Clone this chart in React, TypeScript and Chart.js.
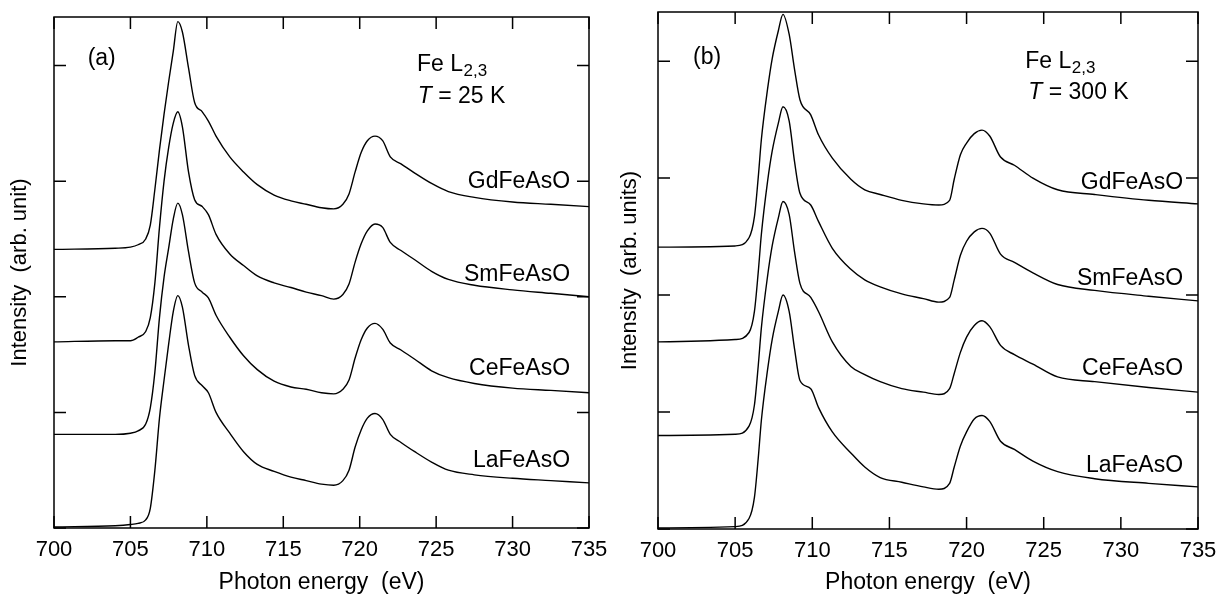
import React, { useEffect, useRef } from 'react';
import { Chart, registerables } from 'chart.js';

Chart.register(...registerables);

// ---------- data ----------
const energy25 = [700, 704, 705, 705.5, 706, 706.3, 706.6, 706.9, 707.2, 707.5, 707.8, 708.1, 708.4, 708.8, 709.2, 709.7, 710.1, 710.6, 711.5, 712.4, 713.3, 714.4, 715.5, 716.5, 717.5, 718.3, 718.9, 719.3, 719.7, 720.1, 720.5, 721.0, 721.5, 722.0, 722.7, 723.6, 724.7, 725.8, 727.5, 730, 732.5, 735];
const La25 = [0.01, 0.02, 0.03, 0.04, 0.07, 0.17, 0.50, 0.95, 1.28, 1.59, 1.87, 2.01, 1.91, 1.58, 1.32, 1.23, 1.17, 1.00, 0.82, 0.66, 0.55, 0.49, 0.44, 0.41, 0.38, 0.37, 0.41, 0.50, 0.70, 0.85, 0.95, 0.99, 0.94, 0.81, 0.74, 0.66, 0.57, 0.50, 0.46, 0.43, 0.41, 0.39];
const Ce25 = [0.81, 0.81, 0.82, 0.84, 0.90, 1.04, 1.35, 1.82, 2.17, 2.42, 2.67, 2.81, 2.71, 2.39, 2.12, 2.04, 1.99, 1.84, 1.65, 1.49, 1.37, 1.27, 1.22, 1.20, 1.17, 1.16, 1.20, 1.28, 1.47, 1.63, 1.73, 1.77, 1.72, 1.60, 1.54, 1.46, 1.36, 1.30, 1.25, 1.21, 1.19, 1.17];
const Sm25 = [1.61, 1.62, 1.62, 1.65, 1.70, 1.82, 2.12, 2.60, 3.00, 3.29, 3.50, 3.60, 3.47, 3.08, 2.84, 2.78, 2.71, 2.54, 2.37, 2.27, 2.18, 2.12, 2.08, 2.04, 2.01, 1.98, 2.02, 2.11, 2.30, 2.46, 2.57, 2.63, 2.60, 2.47, 2.40, 2.32, 2.22, 2.15, 2.10, 2.06, 2.03, 2.00];
const Gd25 = [2.41, 2.42, 2.43, 2.45, 2.50, 2.62, 2.93, 3.27, 3.58, 3.86, 4.12, 4.38, 4.29, 3.98, 3.68, 3.60, 3.52, 3.39, 3.21, 3.08, 2.97, 2.88, 2.83, 2.80, 2.77, 2.76, 2.80, 2.89, 3.08, 3.25, 3.35, 3.39, 3.35, 3.21, 3.15, 3.07, 2.98, 2.91, 2.86, 2.82, 2.80, 2.78];

const energy300 = [700, 705, 705.9, 706.25, 706.5, 706.7, 707.1, 707.4, 707.8, 708.1, 708.5, 708.85, 709.2, 709.9, 710.4, 711.3, 712.5, 713.4, 714.4, 715.8, 717.2, 718.2, 718.9, 719.2, 719.6, 720.0, 720.5, 721.0, 721.5, 722.2, 723.1, 724.3, 725.9, 728.3, 731.8, 735];
const La300 = [0.01, 0.02, 0.09, 0.27, 0.61, 0.93, 1.36, 1.62, 1.86, 2.00, 1.86, 1.54, 1.27, 1.20, 1.04, 0.83, 0.65, 0.53, 0.44, 0.40, 0.36, 0.34, 0.39, 0.53, 0.71, 0.83, 0.94, 0.97, 0.92, 0.75, 0.68, 0.58, 0.49, 0.43, 0.39, 0.36];
const Ce300 = [0.80, 0.81, 0.88, 1.06, 1.40, 1.72, 2.16, 2.42, 2.66, 2.80, 2.69, 2.37, 2.10, 1.98, 1.86, 1.60, 1.39, 1.32, 1.26, 1.20, 1.17, 1.15, 1.20, 1.33, 1.51, 1.64, 1.74, 1.78, 1.73, 1.57, 1.49, 1.41, 1.30, 1.26, 1.21, 1.17];
const Sm300 = [1.60, 1.62, 1.68, 1.86, 2.20, 2.52, 2.97, 3.23, 3.47, 3.61, 3.49, 3.14, 2.87, 2.77, 2.63, 2.40, 2.22, 2.13, 2.07, 2.01, 1.97, 1.94, 1.98, 2.13, 2.34, 2.46, 2.54, 2.57, 2.53, 2.35, 2.28, 2.19, 2.09, 2.04, 1.99, 1.95];
const Gd300 = [2.41, 2.42, 2.49, 2.67, 3.01, 3.33, 3.76, 4.02, 4.26, 4.40, 4.23, 3.93, 3.67, 3.54, 3.37, 3.17, 2.99, 2.90, 2.86, 2.81, 2.78, 2.77, 2.81, 2.99, 3.20, 3.30, 3.38, 3.41, 3.36, 3.18, 3.11, 3.00, 2.90, 2.86, 2.81, 2.78];

const sampleNames = ['LaFeAsO', 'CeFeAsO', 'SmFeAsO', 'GdFeAsO'];
const xTickValues = [700, 705, 710, 715, 720, 725, 730, 735];
const yTickValues = [0, 1, 2, 3, 4];
const xRange = [700, 735];
const yRange = [0, 4.42];

const FONT = '"Liberation Sans", Arial, Helvetica, sans-serif';

type PanelSpec = {
  left: number;
  width: number;
  pad: { left: number; right: number; top: number; bottom: number };
  yAxisWidth: number;
  xAxisHeight: number;
  yTitle: string;
  yTitlePad: number;
  tag: string;
  temp: string;
  energy: number[];
  series: number[][];
  nameX: number;
  nameY: number[];
  tagPos: [number, number];
  fePos: [number, number];
  tPos: [number, number];
};

const panels: PanelSpec[] = [
  {
    left: 0,
    width: 609,
    pad: { left: 0, right: 20, top: 17, bottom: 0 },
    yAxisWidth: 54,
    xAxisHeight: 68,
    yTitle: 'Intensity  (arb. unit)',
    yTitlePad: 7,
    tag: '(a)',
    temp: ' = 25 K',
    energy: energy25,
    series: [La25, Ce25, Sm25, Gd25],
    nameX: 733.76,
    nameY: [0.53, 1.32, 2.14, 2.94],
    tagPos: [702.2, 4.06],
    fePos: [723.75, 3.95],
    tPos: [723.8, 3.68],
  },
  {
    left: 609,
    width: 610,
    pad: { left: 0, right: 21, top: 12, bottom: 0 },
    yAxisWidth: 49,
    xAxisHeight: 67,
    yTitle: 'Intensity  (arb. units)',
    yTitlePad: 8,
    tag: '(b)',
    temp: ' = 300 K',
    energy: energy300,
    series: [La300, Ce300, Sm300, Gd300],
    nameX: 734.03,
    nameY: [0.49, 1.32, 2.09, 2.91],
    tagPos: [702.27, 4.03],
    fePos: [723.8, 3.94],
    tPos: [724.0, 3.68],
  },
];

function makePlugin(spec: PanelSpec) {
  return {
    id: 'frameAndText',
    afterDraw(chart: any) {
      const { ctx, chartArea } = chart;
      const { left, right, top, bottom } = chartArea;
      const x = chart.scales.x;
      const y = chart.scales.y;
      ctx.save();
      ctx.strokeStyle = '#000';
      ctx.lineWidth = 1.5;
      ctx.strokeRect(left, top, right - left, bottom - top);
      ctx.beginPath();
      const tl = 12;
      xTickValues.forEach((v) => {
        const px = x.getPixelForValue(v);
        ctx.moveTo(px, bottom);
        ctx.lineTo(px, bottom - tl);
        ctx.moveTo(px, top);
        ctx.lineTo(px, top + tl);
      });
      yTickValues.forEach((v) => {
        const py = y.getPixelForValue(v);
        ctx.moveTo(left, py);
        ctx.lineTo(left + tl, py);
        ctx.moveTo(right, py);
        ctx.lineTo(right - tl, py);
      });
      ctx.stroke();

      ctx.fillStyle = '#000';
      // sample names
      ctx.font = `23px ${FONT}`;
      ctx.textAlign = 'right';
      ctx.textBaseline = 'alphabetic';
      sampleNames.forEach((n, i) => {
        ctx.fillText(n, x.getPixelForValue(spec.nameX), y.getPixelForValue(spec.nameY[i]));
      });
      // panel tag
      ctx.textAlign = 'left';
      ctx.textBaseline = 'middle';
      ctx.font = `23px ${FONT}`;
      ctx.fillText(spec.tag, x.getPixelForValue(spec.tagPos[0]), y.getPixelForValue(spec.tagPos[1]));
      // Fe L2,3
      ctx.textBaseline = 'alphabetic';
      ctx.font = `23px ${FONT}`;
      const fx = x.getPixelForValue(spec.fePos[0]);
      const fy = y.getPixelForValue(spec.fePos[1]);
      ctx.fillText('Fe L', fx, fy);
      const fw = ctx.measureText('Fe L').width;
      ctx.font = `17px ${FONT}`;
      ctx.fillText('2,3', fx + fw + 0.5, fy + 5);
      // T = ...
      const tx = x.getPixelForValue(spec.tPos[0]);
      const ty = y.getPixelForValue(spec.tPos[1]);
      ctx.font = `italic 23px ${FONT}`;
      ctx.fillText('T', tx, ty);
      const tw = ctx.measureText('T').width;
      ctx.font = `23px ${FONT}`;
      ctx.fillText(spec.temp, tx + tw, ty);
      ctx.restore();
    },
  };
}

function Panel({ spec }: { spec: PanelSpec }) {
  const ref = useRef<HTMLCanvasElement | null>(null);
  useEffect(() => {
    if (!ref.current) return;
    const datasets = spec.series.map((s, i) => ({
      label: sampleNames[i],
      data: s.map((v, j) => ({ x: spec.energy[j], y: v })),
      borderColor: '#000',
      borderWidth: 1.4,
      pointRadius: 0,
      fill: false,
      cubicInterpolationMode: 'monotone' as const,
    }));
    const chart = new Chart(ref.current, {
      type: 'line',
      data: { datasets },
      options: {
        responsive: false,
        animation: false,
        devicePixelRatio: 1,
        layout: { padding: spec.pad },
        plugins: { legend: { display: false }, tooltip: { enabled: false } },
        scales: {
          x: {
            type: 'linear',
            min: xRange[0],
            max: xRange[1],
            grid: { display: false, drawTicks: false },
            border: { display: false },
            ticks: {
              stepSize: 5,
              padding: 9,
              color: '#000',
              font: { family: FONT, size: 22 },
              maxRotation: 0,
              autoSkip: false,
            },
            title: {
              display: true,
              text: 'Photon energy  (eV)',
              color: '#000',
              font: { family: FONT, size: 23 },
              padding: { top: 0, bottom: 0 },
            },
            afterFit: (scale: any) => {
              scale.height = spec.xAxisHeight;
              scale.paddingLeft = 0;
              scale.paddingRight = 0;
            },
          },
          y: {
            type: 'linear',
            min: yRange[0],
            max: yRange[1],
            grid: { display: false, drawTicks: false },
            border: { display: false },
            ticks: { display: false },
            title: {
              display: true,
              text: spec.yTitle,
              color: '#000',
              font: { family: FONT, size: 22 },
              padding: { top: spec.yTitlePad, bottom: 0 },
            },
            afterFit: (scale: any) => {
              scale.width = spec.yAxisWidth;
              scale.paddingTop = 0;
              scale.paddingBottom = 0;
            },
          },
        },
      },
      plugins: [makePlugin(spec)],
    });
    return () => chart.destroy();
  }, [spec]);
  return (
    <canvas
      ref={ref}
      width={spec.width}
      height={596}
      style={{ position: 'absolute', left: spec.left, top: 0, width: spec.width, height: 596 }}
    />
  );
}

export default function App() {
  return (
    <div style={{ position: 'fixed', left: 0, top: 0, width: 1219, height: 596, background: '#fff', overflow: 'hidden' }}>
      {panels.map((p, i) => (
        <Panel key={i} spec={p} />
      ))}
    </div>
  );
}
